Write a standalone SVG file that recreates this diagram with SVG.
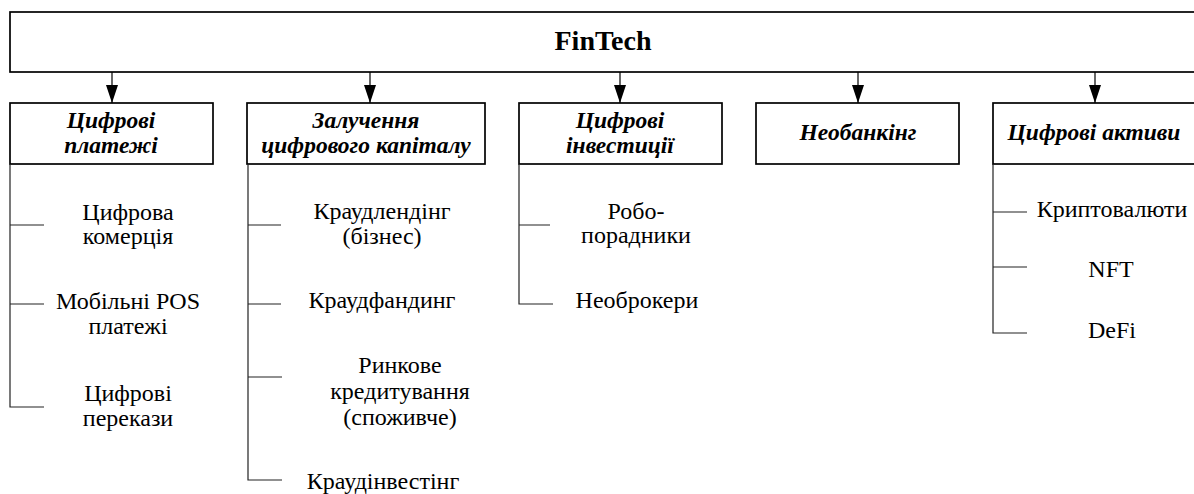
<svg xmlns="http://www.w3.org/2000/svg" width="1194" height="494" viewBox="0 0 1194 494">
  <style>
    .box { fill: #ffffff; stroke: #000000; stroke-width: 1.7; }
    .arrow { stroke: #000000; stroke-width: 1.2; fill: none; }
    .tree { stroke: #222222; stroke-width: 1.2; fill: none; }
    .title { font-family: "Liberation Serif", "Times New Roman", serif; font-weight: bold; font-size: 28px; text-anchor: middle; fill: #000; }
    .cat { font-family: "Liberation Serif", "Times New Roman", serif; font-weight: bold; font-style: italic; font-size: 23.5px; text-anchor: middle; fill: #000; }
    .item { font-family: "Liberation Serif", "Times New Roman", serif; font-size: 24px; text-anchor: middle; fill: #000; }
  </style>
  <defs>
    <marker id="head" markerWidth="18" markerHeight="12" refX="18" refY="6" orient="auto" markerUnits="userSpaceOnUse" viewBox="0 0 18 12">
      <path d="M0,0 L18,6 L0,12 Z" fill="#000"/>
    </marker>
  </defs>
  <rect width="1194" height="494" fill="#ffffff"/>

  <!-- root node -->
  <g id="fintech">
    <rect class="box" x="10" y="12" width="1200" height="60"/>
    <text class="title" x="603" y="50">FinTech</text>
  </g>

  <!-- category nodes -->
  <g id="payments">
    <rect class="box" x="10" y="103" width="203" height="61"/>
    <text class="cat" x="111" y="128">Цифрові</text>
    <text class="cat" x="111" y="153">платежі</text>
  </g>
  <g id="capital">
    <rect class="box" x="247" y="103" width="238" height="61"/>
    <text class="cat" x="366" y="128">Залучення</text>
    <text class="cat" x="366" y="153">цифрового капіталу</text>
  </g>
  <g id="investments">
    <rect class="box" x="519" y="103" width="203" height="61"/>
    <text class="cat" x="620" y="128">Цифрові</text>
    <text class="cat" x="620" y="153">інвестиції</text>
  </g>
  <g id="neobanking">
    <rect class="box" x="756" y="103" width="203" height="61"/>
    <text class="cat" x="858" y="140">Необанкінг</text>
  </g>
  <g id="assets">
    <rect class="box" x="993" y="103" width="220" height="61"/>
    <text class="cat" x="1094" y="140">Цифрові активи</text>
  </g>

  <!-- connectors: root to categories, categories to items -->
  <g id="connectors">
    <line class="arrow" x1="112" y1="72" x2="112" y2="103" marker-end="url(#head)"/>
    <line class="arrow" x1="370" y1="72" x2="370" y2="103" marker-end="url(#head)"/>
    <line class="arrow" x1="620" y1="72" x2="620" y2="103" marker-end="url(#head)"/>
    <line class="arrow" x1="858" y1="72" x2="858" y2="103" marker-end="url(#head)"/>
    <line class="arrow" x1="1095" y1="72" x2="1095" y2="103" marker-end="url(#head)"/>

    <path class="tree" d="M10,164 V407 H44 M10,225 H44 M10,304 H44"/>
    <path class="tree" d="M248,164 V480 H282 M248,225 H281 M248,304 H281 M248,377 H282"/>
    <path class="tree" d="M519,164 V304 H553 M519,225 H550"/>
    <path class="tree" d="M993,164 V333 H1027 M993,212 H1027 M993,267 H1027"/>
  </g>

  <!-- item nodes -->
  <g id="item-commerce">
    <text class="item" x="128" y="220">Цифрова</text>
    <text class="item" x="128" y="244">комерція</text>
  </g>
  <g id="item-mpos">
    <text class="item" x="128" y="309">Мобільні POS</text>
    <text class="item" x="128" y="334">платежі</text>
  </g>
  <g id="item-transfers">
    <text class="item" x="128" y="401">Цифрові</text>
    <text class="item" x="128" y="426">перекази</text>
  </g>

  <g id="item-crowdlending">
    <text class="item" x="382" y="219">Краудлендінг</text>
    <text class="item" x="382" y="244">(бізнес)</text>
  </g>
  <g id="item-crowdfunding">
    <text class="item" x="382" y="308">Краудфандинг</text>
  </g>
  <g id="item-lending">
    <text class="item" x="400" y="373">Ринкове</text>
    <text class="item" x="400" y="399">кредитування</text>
    <text class="item" x="400" y="425">(споживче)</text>
  </g>
  <g id="item-crowdinvesting">
    <text class="item" x="383" y="489">Краудінвестінг</text>
  </g>

  <g id="item-robo">
    <text class="item" x="636" y="219">Робо-</text>
    <text class="item" x="636" y="243">порадники</text>
  </g>
  <g id="item-neobrokers">
    <text class="item" x="637" y="308">Необрокери</text>
  </g>

  <g id="item-crypto">
    <text class="item" x="1112" y="217">Криптовалюти</text>
  </g>
  <g id="item-nft">
    <text class="item" x="1111" y="277">NFT</text>
  </g>
  <g id="item-defi">
    <text class="item" x="1112" y="338">DeFi</text>
  </g>
</svg>
